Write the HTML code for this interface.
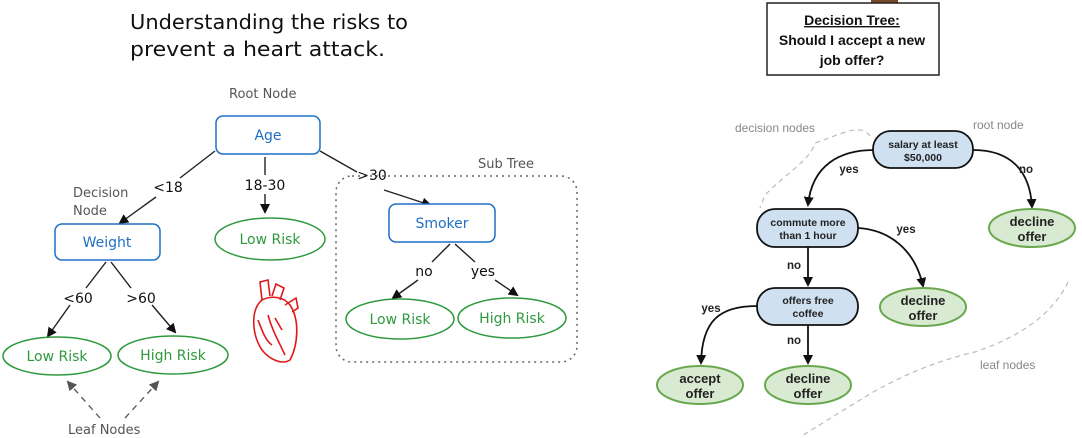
<!DOCTYPE html>
<html><head><meta charset="utf-8"><style>
html,body{margin:0;padding:0;background:#fff;}
svg{display:block;}
.h{font-family:"DejaVu Sans","Liberation Sans",sans-serif;}
.r{font-family:"Liberation Sans",sans-serif;font-weight:bold;}
</style></head><body>
<svg width="1082" height="438" viewBox="0 0 1082 438" xmlns="http://www.w3.org/2000/svg">
<defs>
<marker id="a" markerWidth="10" markerHeight="10" refX="8" refY="5" orient="auto" markerUnits="userSpaceOnUse"><path d="M0,0 L10,5 L0,10 z" fill="#111"/></marker>
<marker id="g" markerWidth="10" markerHeight="10" refX="8" refY="5" orient="auto" markerUnits="userSpaceOnUse"><path d="M0,0 L10,5 L0,10 z" fill="#555"/></marker>
</defs>
<!-- LEFT -->
<g class="h" fill="#111" font-size="20">
<text x="130" y="29" textLength="278" lengthAdjust="spacingAndGlyphs">Understanding the risks to</text>
<text x="130" y="56" textLength="255" lengthAdjust="spacingAndGlyphs">prevent a heart attack.</text>
</g>
<g class="h" fill="#555" font-size="13">
<text x="229" y="98">Root Node</text>
<text x="478" y="168">Sub Tree</text>
<text x="73" y="197">Decision</text>
<text x="73" y="215">Node</text>
<text x="68" y="434">Leaf Nodes</text>
</g>
<rect x="336" y="176" width="241" height="186" rx="16" fill="none" stroke="#666" stroke-dasharray="2,4" stroke-width="1.5"/>
<g fill="none" stroke="#222" stroke-width="1.4">
<line x1="215" y1="151" x2="180" y2="178"/><line x1="156" y1="197" x2="120" y2="223" marker-end="url(#a)"/>
<line x1="265" y1="157" x2="265" y2="175"/><line x1="265" y1="194" x2="265" y2="212" marker-end="url(#a)"/>
<line x1="320" y1="151" x2="357" y2="172"/><line x1="384" y1="190" x2="430" y2="205" marker-end="url(#a)"/>
<line x1="106" y1="262" x2="86" y2="288"/><line x1="70" y1="305" x2="48" y2="336" marker-end="url(#a)"/>
<line x1="111" y1="262" x2="131" y2="288"/><line x1="152" y1="305" x2="175" y2="332" marker-end="url(#a)"/>
<line x1="450" y1="244" x2="432" y2="262"/><line x1="418" y1="280" x2="393" y2="298" marker-end="url(#a)"/>
<line x1="455" y1="244" x2="475" y2="262"/><line x1="495" y1="280" x2="517" y2="295" marker-end="url(#a)"/>
</g>
<g stroke="#555" stroke-width="1.3" stroke-dasharray="6,5" fill="none">
<line x1="100" y1="418" x2="68" y2="382" marker-end="url(#g)"/>
<line x1="125" y1="418" x2="158" y2="382" marker-end="url(#g)"/>
</g>
<g class="h" font-size="14" fill="#111" text-anchor="middle">
<text x="168" y="192">&lt;18</text><text x="265" y="190">18-30</text><text x="372" y="180">&gt;30</text>
<text x="78" y="303">&lt;60</text><text x="141" y="303">&gt;60</text>
<text x="424" y="276">no</text><text x="483" y="276">yes</text>
</g>
<g fill="#fff" stroke="#1f6fc5" stroke-width="1.5">
<rect x="216" y="116" width="104" height="38" rx="7"/>
<rect x="55" y="224" width="105" height="36" rx="7"/>
<rect x="389" y="204" width="106" height="38" rx="7"/>
</g>
<g class="h" font-size="14" fill="#1f6fc5" text-anchor="middle">
<text x="268" y="140">Age</text><text x="107" y="247">Weight</text><text x="442" y="228">Smoker</text>
</g>
<g fill="#fff" stroke="#2e9a3e" stroke-width="1.5">
<ellipse cx="270" cy="239" rx="55" ry="21"/>
<ellipse cx="57" cy="356" rx="54" ry="19"/>
<ellipse cx="173" cy="355" rx="55" ry="19"/>
<ellipse cx="400" cy="319" rx="54" ry="20"/>
<ellipse cx="512" cy="318" rx="54" ry="20"/>
</g>
<g class="h" font-size="14" fill="#2e9a3e" text-anchor="middle">
<text x="270" y="244">Low Risk</text><text x="57" y="361">Low Risk</text><text x="173" y="360">High Risk</text>
<text x="400" y="324">Low Risk</text><text x="512" y="323">High Risk</text>
</g>
<!-- heart -->
<g fill="none" stroke="#e01818" stroke-width="1.6">
<path d="M262,300 C250,310 252,335 262,350 C270,360 282,365 290,360 C298,345 300,320 290,305 C284,297 272,295 262,300 Z"/>
<path d="M262,300 L260,282 L268,280 L270,296 M272,296 L276,284 L284,288 L280,300 M285,305 L296,298 L298,308 L292,312"/>
<path d="M268,315 C272,330 278,340 285,355 M275,318 L282,330 M258,320 C262,330 265,340 272,345"/>
</g>
<!-- RIGHT -->
<rect x="871" y="0" width="27" height="3" fill="#7a4a2a"/>
<rect x="767" y="3" width="172" height="72" fill="#fff" stroke="#222" stroke-width="1.5"/>
<g class="r" font-size="14" fill="#111" text-anchor="middle">
<text x="852" y="25" text-decoration="underline">Decision Tree:</text>
<text x="852" y="45">Should I accept a new</text>
<text x="852" y="65">job offer?</text>
</g>
<g fill="none" stroke="#bbb" stroke-width="1.2" stroke-dasharray="5,4">
<path d="M870,136 C860,122 840,135 815,143 C810,160 790,170 765,195 L760,208"/>
<path d="M1068,282 C1050,320 1010,340 975,352 C940,360 900,375 860,400 L800,437"/>
</g>
<g fill="none" stroke="#111" stroke-width="1.8">
<path d="M874,150 C840,150 812,165 808,205" marker-end="url(#a)"/>
<path d="M973,150 C1010,150 1030,170 1032,207" marker-end="url(#a)"/>
<path d="M858,228 C890,230 915,250 923,286" marker-end="url(#a)"/>
<line x1="808" y1="247" x2="808" y2="285" marker-end="url(#a)"/>
<path d="M757,306 C720,306 702,320 701,363" marker-end="url(#a)"/>
<line x1="808" y1="325" x2="808" y2="363" marker-end="url(#a)"/>
</g>
<g fill="#cfe0f1" stroke="#111" stroke-width="1.8">
<rect x="873" y="131" width="100" height="37" rx="18"/>
<rect x="757" y="209" width="101" height="38" rx="18"/>
<rect x="757" y="288" width="101" height="37" rx="18"/>
</g>
<g fill="#d9ead3" stroke="#6aa84f" stroke-width="2">
<ellipse cx="1032" cy="228" rx="43" ry="19"/>
<ellipse cx="923" cy="307" rx="43" ry="19"/>
<ellipse cx="700" cy="385" rx="43" ry="19"/>
<ellipse cx="808" cy="385" rx="43" ry="19"/>
</g>
<g class="r" font-size="10.5" fill="#222" text-anchor="middle">
<text x="923" y="148">salary at least</text><text x="923" y="161">$50,000</text>
<text x="808" y="226">commute more</text><text x="808" y="239">than 1 hour</text>
<text x="808" y="304">offers free</text><text x="808" y="317">coffee</text>
</g>
<g class="r" font-size="13" fill="#222" text-anchor="middle">
<text x="1032" y="226">decline</text><text x="1032" y="241">offer</text>
<text x="923" y="305">decline</text><text x="923" y="320">offer</text>
<text x="700" y="383">accept</text><text x="700" y="398">offer</text>
<text x="808" y="383">decline</text><text x="808" y="398">offer</text>
</g>
<g class="r" font-size="11.5" fill="#222" text-anchor="middle">
<text x="849" y="173">yes</text><text x="1026" y="173">no</text>
<text x="906" y="233">yes</text><text x="794" y="269">no</text>
<text x="711" y="312">yes</text><text x="794" y="344">no</text>
</g>
<g font-family="Liberation Sans,sans-serif" font-size="12" fill="#888">
<text x="735" y="132">decision nodes</text>
<text x="973" y="129">root node</text>
<text x="980" y="369">leaf nodes</text>
</g>
</svg>
</body></html>
